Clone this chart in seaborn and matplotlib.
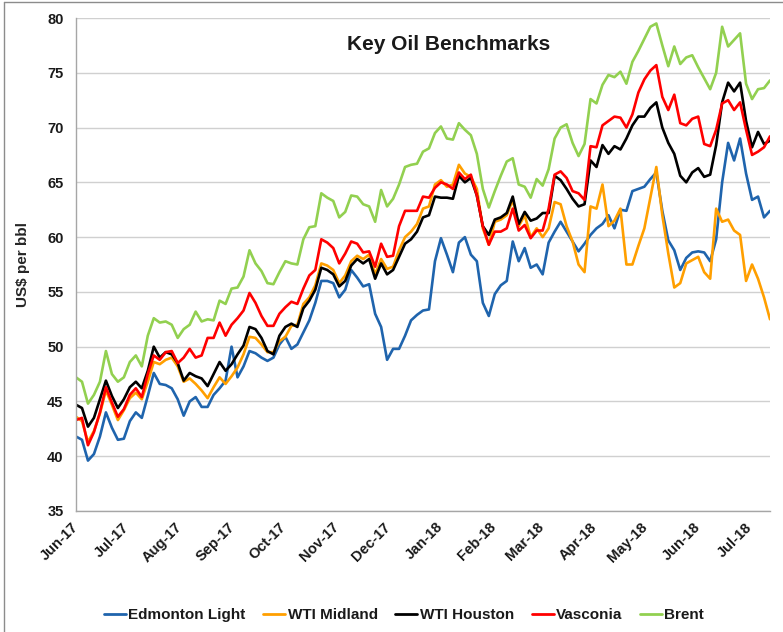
import numpy as np
import pandas as pd
import matplotlib
matplotlib.use("Agg")
import matplotlib.pyplot as plt
import matplotlib.dates as mdates
from matplotlib.lines import Line2D
import seaborn as sns

# roughly twice-weekly readings, Jun 1 2017 to Jul 13 2018 (US$ per bbl)
start_date = "2017-06-01"
end_date = "2018-07-13"

edmonton_light = [
    41.8, 41.5, 39.6, 40.2, 41.8, 44.0, 42.6, 41.5, 41.6, 43.2, 44.0, 43.5, 45.5, 47.6, 46.6, 46.5, 46.2, 45.2, 43.7, 45.0,
    45.4, 44.5, 44.5, 45.6, 46.2, 46.9, 50.0, 47.2, 48.2, 49.6, 49.4, 49.0, 48.7, 49.0, 50.2, 50.9, 49.8, 50.2, 51.3, 52.4,
    54.0, 56.0, 56.0, 55.8, 54.5, 55.2, 57.0, 56.3, 55.5, 55.7, 53.0, 51.8, 48.8, 49.8, 49.8, 51.0, 52.4, 52.9, 53.3,
    53.4, 57.8, 59.9, 58.4, 56.8, 59.5, 60.0, 58.4, 57.8, 54.0, 52.8, 54.8, 55.6, 56.0, 59.6, 57.8, 59.0, 57.2, 57.5,
    56.6, 59.5, 60.5, 61.4, 60.5, 59.6, 58.7, 59.4, 60.2, 60.8, 61.2, 62.0, 60.8, 62.5, 62.4, 64.2, 64.4, 64.6, 65.3,
    65.9, 62.4, 59.7, 58.8, 57.0, 58.1, 58.6, 58.7, 58.6, 57.8, 59.8, 65.0, 68.6, 67.0, 69.0, 65.8, 63.4, 63.7, 61.8, 62.4,
]
wti_midland = [
    43.6, 43.2, 41.3, 42.3, 43.9, 46.0, 44.7, 43.3, 44.2, 45.3, 45.8, 45.2, 46.8, 48.6, 48.4, 48.8, 49.0, 48.2, 46.8, 47.1,
    46.6, 46.0, 45.3, 46.3, 47.2, 46.6, 47.3, 48.1, 49.3, 50.9, 50.8, 50.2, 49.5, 49.5, 50.5, 50.9, 51.9, 52.0, 53.9, 54.5,
    55.6, 57.6, 57.4, 57.0, 55.8, 56.5, 57.8, 58.3, 58.0, 58.4, 56.6, 58.0, 57.1, 57.3, 58.8, 60.0, 60.5, 61.2, 62.6,
    62.8, 64.8, 65.2, 64.6, 64.8, 66.6, 65.8, 65.5, 64.4, 60.8, 59.3, 61.4, 61.6, 62.0, 63.4, 61.0, 62.0, 60.0, 60.8,
    60.0, 60.8, 63.2, 63.0, 61.0, 59.6, 57.5, 56.8, 62.8, 62.6, 64.8, 61.0, 61.5, 62.6, 57.5, 57.5, 59.2, 60.8, 63.6,
    66.4, 62.0, 58.5, 55.4, 55.8, 57.6, 57.9, 58.2, 56.8, 56.2, 62.6, 61.4, 61.6, 60.6, 60.2, 56.0, 57.5, 56.2, 54.5, 52.5,
]
wti_houston = [
    44.7, 44.4, 42.7, 43.5, 45.2, 46.9, 45.5, 44.4, 45.2, 46.3, 46.8, 46.2, 47.8, 50.0, 49.0, 49.5, 49.3, 48.5, 46.9, 47.6,
    47.3, 47.1, 46.4, 47.5, 48.6, 47.8, 48.4, 49.3, 50.1, 51.8, 51.6, 50.8, 49.6, 49.3, 51.0, 51.8, 52.1, 51.8, 53.5, 54.2,
    55.2, 57.2, 57.0, 56.6, 55.5, 56.0, 57.4, 58.0, 57.6, 58.0, 56.2, 57.6, 56.6, 57.0, 58.2, 59.4, 59.8, 60.5, 61.8,
    62.0, 63.7, 63.6, 63.6, 63.5, 65.6, 65.0, 65.4, 63.8, 61.0, 60.2, 61.6, 61.8, 62.2, 63.7, 61.2, 62.3, 61.5, 61.7,
    62.2, 62.2, 65.6, 65.2, 64.4, 63.5, 62.8, 63.0, 67.0, 66.4, 68.4, 67.6, 68.3, 68.0, 69.0, 70.2, 71.0, 71.0, 71.8,
    72.3, 70.0, 68.6, 67.6, 65.6, 65.0, 65.9, 66.3, 65.5, 65.7, 68.4, 72.3, 74.1, 73.3, 74.1, 70.6, 68.2, 69.6, 68.5, 68.8,
]
vasconia = [
    43.3, 43.5, 41.0, 42.2, 44.0, 46.3, 44.9, 43.6, 44.3, 45.6, 46.2, 45.4, 47.5, 49.2, 48.8, 49.5, 49.6, 48.5, 49.0, 49.8,
    49.0, 49.2, 50.8, 50.8, 52.2, 51.0, 52.0, 52.6, 53.3, 54.9, 54.0, 52.8, 51.9, 51.9, 53.0, 53.6, 54.1, 53.9, 55.3, 56.5,
    57.0, 59.8, 59.5, 59.0, 57.6, 58.5, 59.6, 59.4, 58.6, 58.7, 57.3, 59.4, 58.2, 58.3, 61.0, 62.4, 62.4, 62.4, 63.7,
    63.6, 64.5, 65.0, 64.8, 64.4, 65.9, 65.3, 65.7, 63.8, 61.0, 59.3, 60.5, 60.5, 60.8, 62.6, 60.6, 61.1, 59.9, 60.6,
    60.6, 62.6, 65.7, 66.0, 65.4, 64.2, 64.0, 63.4, 68.3, 68.2, 70.2, 70.6, 71.0, 70.9, 70.0, 71.2, 73.2, 74.4, 75.2,
    75.7, 72.8, 71.6, 73.0, 70.4, 70.2, 70.8, 71.0, 68.5, 68.3, 69.8, 72.2, 72.5, 71.6, 72.3, 69.8, 67.5, 67.8, 68.2, 69.2,
]
brent = [
    47.2, 46.8, 44.8, 45.6, 46.8, 49.6, 47.5, 46.8, 47.2, 48.6, 49.2, 48.2, 51.0, 52.6, 52.2, 52.3, 52.0, 50.8, 51.6, 52.0,
    53.2, 52.3, 52.5, 52.4, 54.2, 53.9, 55.3, 55.4, 56.4, 58.8, 57.6, 56.9, 55.8, 55.7, 56.8, 57.8, 57.6, 57.5, 59.8, 60.9,
    61.0, 64.0, 63.6, 63.3, 61.8, 62.3, 63.8, 63.7, 63.0, 62.8, 61.4, 64.3, 62.8, 63.5, 64.8, 66.4, 66.6, 66.7, 67.8,
    68.1, 69.5, 70.1, 69.0, 68.9, 70.4, 69.8, 69.3, 67.6, 64.4, 62.7, 64.2, 65.6, 66.9, 67.2, 64.8, 64.6, 63.6, 65.3,
    64.7, 66.2, 69.0, 70.0, 70.3, 68.6, 67.4, 68.5, 72.6, 72.2, 73.9, 74.8, 74.6, 75.1, 74.0, 76.0, 77.0, 78.1, 79.2,
    79.5, 77.5, 75.6, 77.4, 75.8, 76.4, 76.6, 75.5, 74.5, 73.5, 75.0, 79.2, 77.4, 78.0, 78.6, 74.0, 72.6, 73.5, 73.6, 74.3,
]

series_names = ["Edmonton Light", "WTI Midland", "WTI Houston", "Vasconia", "Brent"]
series_colors = ["#1F64AD", "#FF9F00", "#000000", "#FF0000", "#92D050"]
series_values = [edmonton_light, wti_midland, wti_houston, vasconia, brent]

dates = pd.date_range(start_date, end_date, periods=len(brent))
frames = []
for name, vals in zip(series_names, series_values):
    frames.append(pd.DataFrame({"Date": dates, "Price": vals, "Series": name}))
df = pd.concat(frames, ignore_index=True)

sns.set_style("white")
plt.rcParams["font.family"] = ["Liberation Sans", "DejaVu Sans"]
plt.rcParams["font.weight"] = "bold"
plt.rcParams["text.color"] = "#1a1a1a"
plt.rcParams["xtick.color"] = "#1a1a1a"
plt.rcParams["ytick.color"] = "#1a1a1a"

W, H = 783, 632
fig = plt.figure(figsize=(W / 100, H / 100), dpi=100)
ax = fig.add_axes([76 / W, 1 - 511 / H, 694 / W, 493 / H])

palette = dict(zip(series_names, series_colors))
sns.lineplot(data=df, x="Date", y="Price", hue="Series", hue_order=series_names,
             palette=palette, linewidth=1.9, ax=ax, legend=False)

ax.set_xlim(dates[0], dates[-1])
ax.set_ylim(35, 80)
ax.set_yticks(range(35, 81, 5))
ax.xaxis.set_major_locator(mdates.MonthLocator())
ax.xaxis.set_major_formatter(mdates.DateFormatter("%b-%y"))

ax.yaxis.grid(True, color="#d0d0d0", linewidth=1)
ax.set_axisbelow(True)
for side in ["top", "right"]:
    ax.spines[side].set_visible(False)
for side in ["left", "bottom"]:
    ax.spines[side].set_color("#a6a6a6")
    ax.spines[side].set_linewidth(1)

ax.tick_params(axis="both", direction="out", length=4, width=1, color="#a6a6a6", labelsize=10.5)
ax.tick_params(axis="y", pad=5)
ax.tick_params(axis="x", pad=6, labelrotation=45)
for lbl in ax.get_xticklabels():
    lbl.set_ha("right")
    lbl.set_va("center")
    lbl.set_rotation_mode("anchor")
    lbl.set_fontweight("bold")
for lbl in ax.get_yticklabels():
    lbl.set_fontweight("bold")

ax.set_xlabel("")
ax.set_ylabel(r"US\$ per bbl", fontsize=11, fontweight="bold")
ax.yaxis.set_label_coords((30 - 76) / 694, 0.5)

ax.text(0.537, 0.947, "Key Oil Benchmarks", transform=ax.transAxes,
        ha="center", va="center", fontsize=15, fontweight="bold")

handles = [Line2D([0], [0], color=c, linewidth=2) for c in series_colors]
fig.legend(handles, series_names, loc="center", bbox_to_anchor=(404 / W, 1 - 615 / H),
           ncol=5, frameon=False, handlelength=1.45, handletextpad=0.15,
           columnspacing=1.15, prop={"weight": "bold", "size": 11})

# chart-area border (left and top edges are visible in the reference)
fig.add_artist(Line2D([4 / W, 4 / W], [0, 1 - 2 / H], color="#8c8c8c", linewidth=1, transform=fig.transFigure))
fig.add_artist(Line2D([4 / W, 1], [1 - 2 / H, 1 - 2 / H], color="#8c8c8c", linewidth=1, transform=fig.transFigure))

fig.savefig("out.png", dpi=100)
